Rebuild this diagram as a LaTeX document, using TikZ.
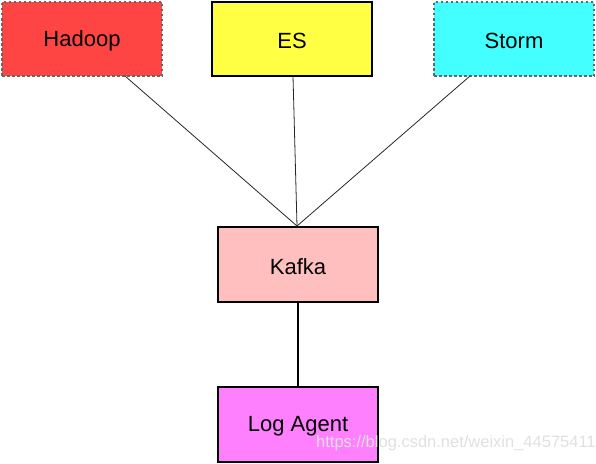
\documentclass[tikz,border=0pt]{standalone}
\usepackage{fontspec}
\setmainfont{Liberation Sans}
\definecolor{hadoopc}{HTML}{FF4444}
\definecolor{esc}{HTML}{FFFF44}
\definecolor{stormc}{HTML}{44FFFF}
\definecolor{kafkac}{HTML}{FFBFBF}
\definecolor{agentc}{HTML}{FF80FF}
\begin{document}
\begin{tikzpicture}[x=1pt,y=-1pt,
  box/.style={draw=black,line width=1.5pt,minimum width=160pt,minimum height=74pt,inner sep=0pt,font=\fontsize{22}{26}\selectfont},
  dbox/.style={box,draw=gray!80!black,line width=1.2pt,dash pattern=on 2.5pt off 2.5pt},
  thin/.style={draw=black!85,line width=0.8pt},
  thick/.style={draw=black,line width=2pt},
  lbl/.style={font=\fontsize{22}{26}\selectfont,inner sep=0pt}]
\useasboundingbox (0,0) rectangle (596,463);
\node[dbox,fill=hadoopc] (hadoop) at (82,39) {};
\node[box,fill=esc] (es) at (292,39) {};
\node[dbox,fill=stormc] (storm) at (514,39) {};
\node[box,fill=kafkac,minimum height=75pt] (kafka) at (298,264.5) {};
\node[box,fill=agentc,minimum height=75pt] (agent) at (298,424.5) {};
\node[lbl] (th) at ([yshift=-2pt]hadoop.center) {Hadoop};
\node[lbl] (te) at ([yshift=-2pt]es.center) {ES};
\node[lbl] (ts) at ([yshift=-2pt]storm.center) {Storm};
\node[lbl] (tk) at ([yshift=-2pt]kafka.center) {Kafka};
\node[lbl] (ta) at ([yshift=-2pt]agent.center) {Log Agent};
\coordinate (top) at (297,226);
\coordinate (hb) at (125,76);
\coordinate (eb) at (293,76);
\coordinate (sb) at (470,76);
\draw[thin] (hb) -- (top);
\draw[thin] (eb) -- (top);
\draw[thin] (sb) -- (top);
\draw[thick] (kafka.south) -- (agent.north);
\node[text=white!88!black,font=\fontsize{16.5}{19}\selectfont,anchor=west,inner sep=0pt] (wm) at (316,443) {https://blog.csdn.net/weixin\_44575411};
\end{tikzpicture}
\end{document}
